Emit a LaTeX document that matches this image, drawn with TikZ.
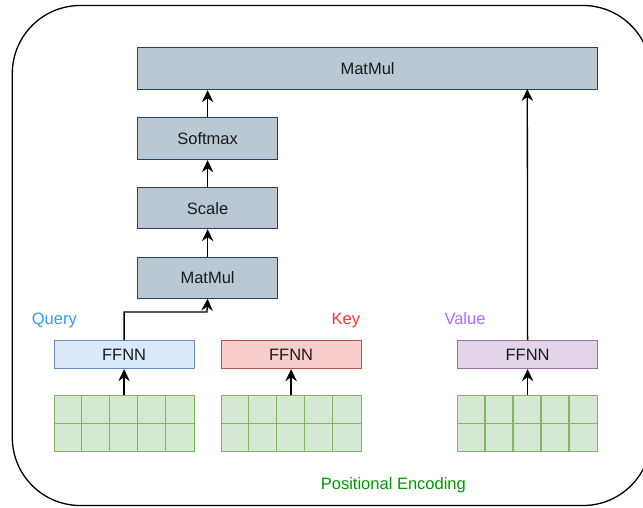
\documentclass[tikz,border=0pt]{standalone}
\usepackage{fontspec}
\setmainfont{Liberation Sans}
\usetikzlibrary{arrows.meta,calc}

\definecolor{opfill}{HTML}{BAC8D3}
\definecolor{opline}{HTML}{23445D}
\definecolor{qfill}{HTML}{DAE8FC}
\definecolor{qline}{HTML}{6C8EBF}
\definecolor{kfill}{HTML}{F8CECC}
\definecolor{kline}{HTML}{B85450}
\definecolor{vfill}{HTML}{E1D5E7}
\definecolor{vline}{HTML}{9673A6}
\definecolor{gfill}{HTML}{D5E8D4}
\definecolor{gline}{HTML}{82B366}
\definecolor{qtext}{HTML}{3399FF}
\definecolor{ktext}{HTML}{FF3333}
\definecolor{vtext}{HTML}{B266FF}
\definecolor{ptext}{HTML}{009900}

\begin{document}
\begin{tikzpicture}[x=1pt,y=-1pt,
  font=\fontsize{16.5}{19}\selectfont,
  box/.style={line width=1.2pt, inner sep=0pt, anchor=north west, text=black!90},
  opbox/.style={box, draw=opline, fill=opfill, minimum width=140pt, minimum height=41pt},
  ffnnbox/.style={box, minimum width=140pt, minimum height=28pt},
  embgrid/.style={box, draw=gline, fill=gfill, minimum width=140pt, minimum height=56pt},
  cellline/.style={draw=gline, line width=1.2pt},
  arr/.style={draw=black, line width=1.3pt, -{Stealth[length=12pt,width=11.5pt,inset=4pt]}},
  lbl/.style={inner sep=0pt}]
\useasboundingbox (0,0) rectangle (643,507);

% outer frame
\begin{scope}
\clip (0,0) rectangle (643,507);
\draw[line width=1.3pt, rounded corners=68pt] (12.3,5.5) rectangle (651,505.5);
\end{scope}

% attention stack
\node[opbox, minimum width=460pt, minimum height=42pt] (mmtop) at (137,47) {MatMul};
\node[opbox, minimum height=42pt] (softmax) at (137,117) {Softmax};
\node[opbox] (scale) at (137,187) {Scale};
\node[opbox] (mmlow) at (137,256.5) {MatMul};

% projections
\node[ffnnbox, draw=qline, fill=qfill] (qffnn) at (53.5,340) {FFNN};
\node[ffnnbox, draw=kline, fill=kfill] (kffnn) at (220.5,340) {FFNN};
\node[ffnnbox, draw=vline, fill=vfill] (vffnn) at (457,340) {FFNN};

% embedding grids
\node[embgrid] (qgrid) at (53.5,395) {};
\node[embgrid] (kgrid) at (220.5,395) {};
\node[embgrid] (vgrid) at (457,395) {};
\foreach \g in {qgrid,kgrid,vgrid}{
  \foreach \i in {1,...,4}
    \draw[cellline] ($(\g.north west)+(28*\i,0)$) -- ($(\g.south west)+(28*\i,0)$);
  \draw[cellline] (\g.west) -- (\g.east);
}

% labels
\node[lbl, anchor=base west, text=qtext] (qlbl) at (31.7,324.5) {Query};
\node[lbl, anchor=base east, text=ktext] (klbl) at (360.3,324.5) {Key};
\node[lbl, anchor=base west, text=vtext] (vlbl) at (444.3,324.5) {Value};
\node[lbl, anchor=base west, text=ptext] (plbl) at (320.7,489.5) {Positional Encoding};

% connectors
\coordinate (qbend) at (207,312);
\coordinate (vin) at (527.3,89);
\draw[arr] (qgrid.north) -- (qffnn.south);
\draw[arr] (kgrid.north) -- (kffnn.south);
\draw[arr] (vgrid.north) -- (vffnn.south);
\draw[arr] (qffnn.north) |- (qbend) -- (mmlow.south);
\draw[arr] (mmlow.north) -- (scale.south);
\draw[arr] (scale.north) -- (softmax.south);
\draw[arr] (softmax.north) -- (mmtop.south -| softmax.north);
\draw[arr] (vffnn.north) -- (vin);
\end{tikzpicture}
\end{document}
